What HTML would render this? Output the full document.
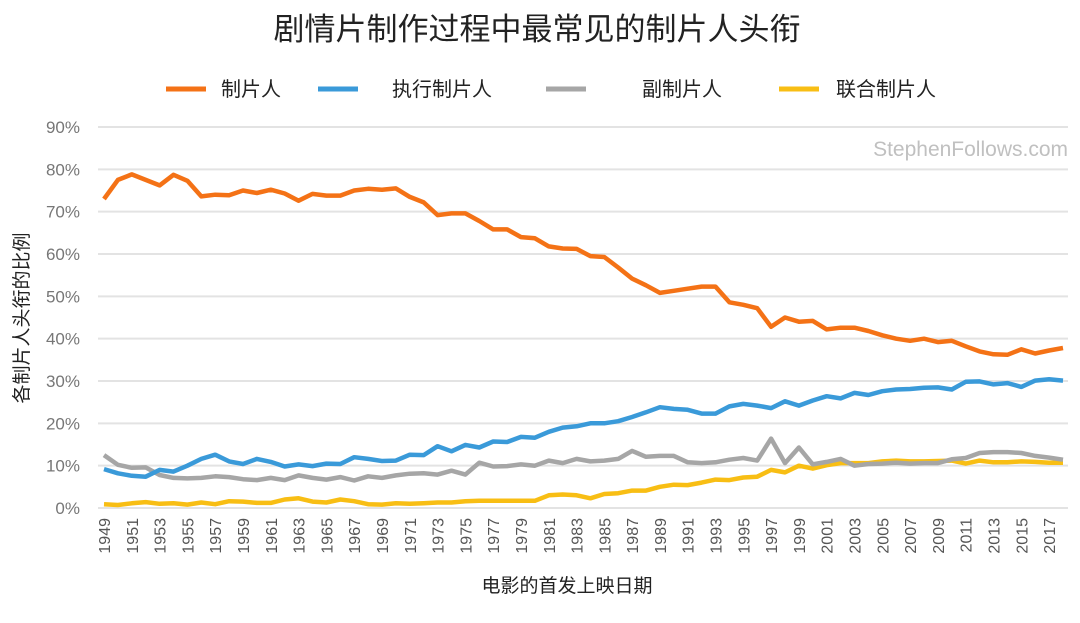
<!DOCTYPE html>
<html><head><meta charset="utf-8"><style>
body{margin:0;background:#fff;font-family:"Liberation Sans","Noto Sans CJK SC",sans-serif;}
svg text{font-family:"Liberation Sans","Noto Sans CJK SC",sans-serif;}
</style></head><body>
<svg id="chart" width="1080" height="618">
<text x="537" y="40" text-anchor="middle" font-size="31" fill="#222">剧情片制作过程中最常见的制片人头衔</text>
<g id="legend"></g>
<text x="1068" y="156" text-anchor="end" font-size="21" fill="#c0c0c0">StephenFollows.com</text>
<g id="grid"></g><g id="ylabels"></g><g id="xlabels"></g><g id="series"></g>
<text x="567" y="592" text-anchor="middle" font-size="19" fill="#222">电影的首发上映日期</text>
<text transform="translate(28,318) rotate(-90)" text-anchor="middle" font-size="19" fill="#222">各制片人头衔的比例</text>
</svg>
<script>
const years=[1949,1950,1951,1952,1953,1954,1955,1956,1957,1958,1959,1960,1961,1962,1963,1964,1965,1966,1967,1968,1969,1970,1971,1972,1973,1974,1975,1976,1977,1978,1979,1980,1981,1982,1983,1984,1985,1986,1987,1988,1989,1990,1991,1992,1993,1994,1995,1996,1997,1998,1999,2000,2001,2002,2003,2004,2005,2006,2007,2008,2009,2010,2011,2012,2013,2014,2015,2016,2017,2018];
const producer=[73,77.5,78.8,77.5,76.2,78.7,77.3,73.6,74,73.9,75,74.4,75.2,74.3,72.6,74.2,73.8,73.8,75,75.4,75.2,75.5,73.5,72.2,69.2,69.6,69.6,67.8,65.8,65.8,64,63.7,61.8,61.3,61.2,59.5,59.3,56.8,54.2,52.6,50.8,51.3,51.8,52.3,52.3,48.6,48,47.2,42.8,45,44,44.2,42.2,42.6,42.6,41.8,40.8,40,39.5,40,39.2,39.5,38.2,37,36.3,36.2,37.5,36.5,37.2,37.8];
const execProducer=[9.2,8.2,7.6,7.4,9,8.6,10,11.6,12.6,11,10.4,11.6,10.9,9.8,10.3,9.9,10.5,10.4,12.0,11.6,11.1,11.2,12.6,12.5,14.6,13.4,14.9,14.3,15.7,15.6,16.8,16.6,18,19,19.3,20,20,20.5,21.5,22.6,23.8,23.4,23.2,22.3,22.3,24,24.6,24.2,23.6,25.2,24.2,25.4,26.4,25.9,27.2,26.7,27.6,28,28.1,28.4,28.5,28,29.8,29.9,29.2,29.5,28.6,30.1,30.4,30.1];
const assocProducer=[12.5,10.2,9.5,9.6,7.8,7.1,7,7.1,7.5,7.3,6.8,6.6,7.1,6.6,7.7,7.1,6.7,7.3,6.5,7.5,7.1,7.7,8.1,8.2,7.9,8.8,7.9,10.7,9.8,9.9,10.3,10,11.2,10.6,11.6,11,11.2,11.6,13.5,12.1,12.3,12.3,10.8,10.6,10.8,11.4,11.8,11.2,16.4,10.6,14.3,10.3,10.9,11.6,10,10.4,10.5,10.7,10.5,10.6,10.6,11.5,11.8,13,13.2,13.2,13,12.3,11.9,11.4];
const coProducer=[0.9,0.7,1.1,1.4,1.0,1.1,0.8,1.3,0.9,1.6,1.5,1.2,1.2,2,2.3,1.5,1.3,2,1.6,0.9,0.8,1.1,1.0,1.1,1.3,1.3,1.6,1.7,1.7,1.7,1.7,1.7,3.0,3.2,3.0,2.3,3.3,3.5,4.1,4.1,5,5.5,5.4,6,6.7,6.6,7.2,7.4,9,8.4,10,9.3,10.1,10.6,10.6,10.6,11,11.2,11,11,11.1,11.2,10.5,11.2,10.8,10.8,11,10.9,10.7,10.7];
const yTicks=[0,10,20,30,40,50,60,70,80,90];
const seriesNames=["制片人","执行制片人","副制片人","联合制片人"];
const seriesColors=["#f47216","#3a9ad9","#a6a6a6","#f8be14"];
const NS="http://www.w3.org/2000/svg";
const X0=104,X1=1063,Y0=508,Y1=127;
function xs(i){return X0+(X1-X0)*i/(years.length-1);}
function ys(v){return Y0-(Y0-Y1)*v/90;}
function mk(tag,attrs,parent){const e=document.createElementNS(NS,tag);for(const k in attrs)e.setAttribute(k,attrs[k]);parent.appendChild(e);return e;}
const grid=document.getElementById('grid'),yl=document.getElementById('ylabels'),xl=document.getElementById('xlabels'),sg=document.getElementById('series'),lg=document.getElementById('legend');
yTicks.forEach(t=>{
 const l=mk('line',{x1:98,x2:1068,y1:ys(t),y2:ys(t),stroke:'#e3e3e3','stroke-width':2},grid);
 
 
 const tx=mk('text',{x:80,y:ys(t)+6,'text-anchor':'end','font-size':17,fill:'#777'},yl);
 tx.textContent=t+'%';
 
 
});
years.forEach((y,i)=>{
 if(i%2)return;
 const tx=mk('text',{transform:`translate(${xs(i)+6},518) rotate(-90)`,'text-anchor':'end','font-size':16,fill:'#555'},xl);
 tx.textContent=y;
 
 
});
const allSeries=[producer,execProducer,assocProducer,coProducer];
[3,2,1,0].forEach(si=>{
 const d=allSeries[si].map((v,i)=>(i?'L':'M')+xs(i).toFixed(1)+','+ys(v).toFixed(1)).join(' ');
 const p=mk('path',{d:d,fill:'none',stroke:seriesColors[si],'stroke-width':4.5,'stroke-linejoin':'round'},sg);
 
 
});
const legX=[166,318,546,779];
seriesNames.forEach((n,i)=>{
 const g=mk('g',{},lg);
 
 
 mk('line',{x1:legX[i],x2:legX[i]+40,y1:89,y2:89,stroke:seriesColors[i],'stroke-width':5},g);
 const off=[55,74,96,57][i];
 const t=mk('text',{x:legX[i]+off,y:96,'font-size':20,fill:'#222'},g);
 t.textContent=n;
});
</script>
</body></html>
